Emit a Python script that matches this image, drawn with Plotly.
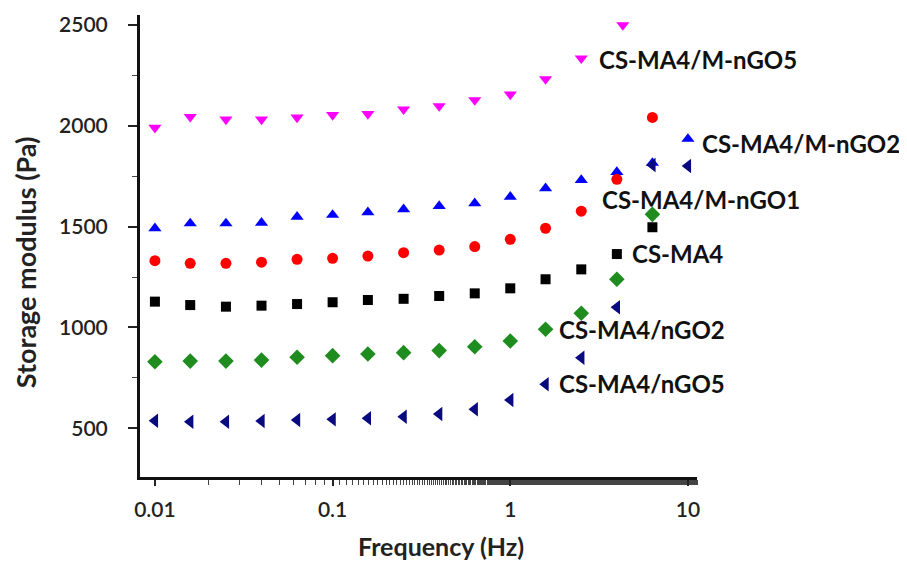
import plotly.graph_objects as go

freq = [0.01, 0.0158, 0.0251, 0.0398, 0.0631, 0.1, 0.158, 0.251, 0.398, 0.631,
        1.0, 1.58, 2.51, 3.98, 6.31, 10.0]

freq_mngo5 = freq[:13] + [4.3]
g_mngo5 = [1991, 2045, 2032, 2032, 2042, 2054, 2059, 2082, 2098, 2128, 2156, 2232, 2335, 2500]
g_mngo2 = [1492, 1516, 1516, 1519, 1549, 1558, 1571, 1586, 1602, 1616, 1648, 1690, 1731, 1771, 1816, 1935]
g_mngo1 = [1331, 1318, 1318, 1324, 1338, 1343, 1354, 1371, 1384, 1401, 1437, 1492, 1577, 1735, 2042]
g_ma4 = [1128, 1111, 1103, 1108, 1116, 1125, 1136, 1142, 1156, 1169, 1194, 1239, 1288, 1364, 1497]
g_ngo2 = [830, 833, 833, 838, 852, 860, 868, 875, 885, 904, 933, 991, 1070, 1239, 1561]
g_ngo5 = [537, 532, 532, 536, 541, 544, 549, 557, 571, 594, 640, 718, 850, 1100, 1806, 1801]

names = ["CS-MA4/M-nGO5", "CS-MA4/M-nGO2", "CS-MA4/M-nGO1", "CS-MA4", "CS-MA4/nGO2", "CS-MA4/nGO5"]
x_tick_vals = [0.01, 0.1, 1, 10]
x_tick_text = ["0.01", "0.1", "1", "10"]
y_tick_vals = [500, 1000, 1500, 2000, 2500]

series = [
    (names[0], freq_mngo5, g_mngo5, "triangle-down", "#FF00FF", 11.5),
    (names[1], freq, g_mngo2, "triangle-up", "#0000FF", 11.5),
    (names[2], freq[:15], g_mngo1, "circle", "#FF0000", 11),
    (names[3], freq[:15], g_ma4, "square", "#000000", 10),
    (names[4], freq[:15], g_ngo2, "diamond", "#1E8C1E", 12),
    (names[5], freq, g_ngo5, "triangle-left", "#0A0A80", 12.5),
]

fig = go.Figure()
for name, xs, ys, sym, col, sz in series:
    fig.add_trace(go.Scatter(x=xs, y=ys, mode="markers", name=name,
                             marker=dict(symbol=sym, color=col, size=sz, line=dict(width=0)),
                             cliponaxis=False))

# label positions in paper coordinates
label_pos = [(0.8205, 0.9026), (1.0054, 0.7229), (0.8259, 0.5996),
             (0.8797, 0.4827), (0.7487, 0.3182), (0.7487, 0.2013)]
for name, (lx, ly) in zip(names, label_pos):
    fig.add_annotation(x=lx, y=ly, xref="paper", yref="paper", text=name, showarrow=False,
                       xanchor="left", yanchor="middle",
                       font=dict(family="Lato", size=24, color="#111111", weight="bold"))

# axis titles
fig.add_annotation(x=-0.2065, y=0.465, xref="paper", yref="paper", text="Storage modulus (Pa)",
                   showarrow=False, textangle=-90, xanchor="center", yanchor="middle",
                   font=dict(family="Lato", size=27, color="#222222", weight="bold"))
fig.add_annotation(x=0.540, y=-0.149, xref="paper", yref="paper", text="Frequency (Hz)",
                   showarrow=False, xanchor="center", yanchor="middle",
                   font=dict(family="Lato", size=25, color="#222222", weight="bold"))

# page body has an 8px default margin, so the figure is sized/margined to compensate
fig.update_layout(
    width=899, height=554,
    margin=dict(l=132, r=210, t=7, b=85, autoexpand=False),
    paper_bgcolor="white", plot_bgcolor="white",
    showlegend=False,
    font=dict(family="Lato", color="#222222"),
)

fig.update_xaxes(
    type="log", range=[-2.084, 1.051], automargin=False,
    tickvals=x_tick_vals, ticktext=x_tick_text,
    ticks="outside", ticklen=6, tickwidth=1.5, tickcolor="#222222",
    minor=dict(ticks="outside", ticklen=5, tickwidth=1.2, tickcolor="#444444", showgrid=False),
    showline=True, linewidth=3, linecolor="#111111",
    showgrid=False, zeroline=False,
    tickfont=dict(family="Lato", size=21, color="#222222", weight=600),
    ticklabelstandoff=6,
)
fig.update_yaxes(
    range=[258, 2550], automargin=False,
    tickvals=y_tick_vals,
    ticks="outside", ticklen=9, tickwidth=1.5, tickcolor="#222222",
    minor=dict(ticks="outside", ticklen=5, tickwidth=1.2, tickcolor="#444444", dtick=250, tick0=0, showgrid=False),
    showline=True, linewidth=3, linecolor="#111111",
    showgrid=False, zeroline=False,
    tickfont=dict(family="Lato", size=21, color="#222222", weight=600),
    ticklabelstandoff=16,
)

fig.write_html("out.html")
